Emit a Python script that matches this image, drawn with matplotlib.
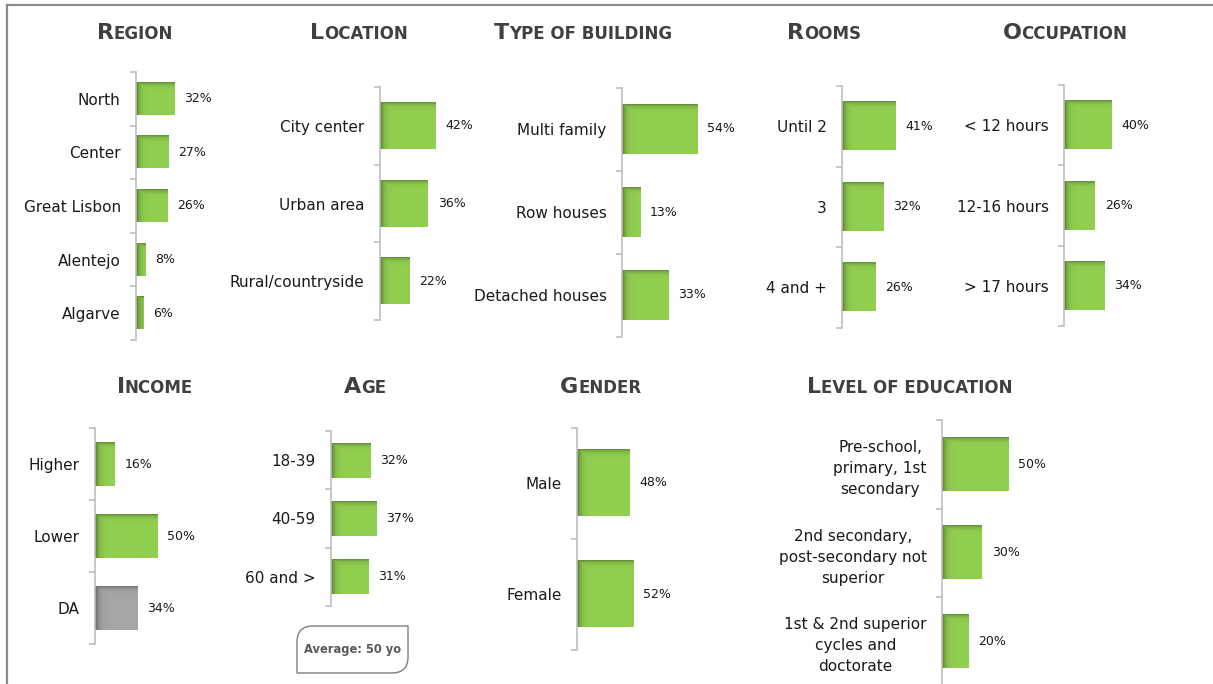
import numpy as np
import matplotlib
matplotlib.use("Agg")
import matplotlib.pyplot as plt
from matplotlib.path import Path
from matplotlib.patches import PathPatch
from matplotlib.colors import to_rgb

W, H = 1213, 684

# ---- data ----
region_labels = ['North', 'Center', 'Great Lisbon', 'Alentejo', 'Algarve']
region_vals = [32, 27, 26, 8, 6]

location_labels = ['City center', 'Urban area', 'Rural/countryside']
location_vals = [42, 36, 22]

building_labels = ['Multi family', 'Row houses', 'Detached houses']
building_vals = [54, 13, 33]

rooms_labels = ['Until 2', '3', '4 and +']
rooms_vals = [41, 32, 26]

occupation_labels = ['< 12 hours', '12-16 hours', '> 17 hours']
occupation_vals = [40, 26, 34]

income_labels = ['Higher', 'Lower', 'DA']
income_vals = [16, 50, 34]

age_labels = ['18-39', '40-59', '60 and >']
age_vals = [32, 37, 31]

gender_labels = ['Male', 'Female']
gender_vals = [48, 52]

education_labels = ['Pre-school,\nprimary, 1st\nsecondary',
                    '2nd secondary,\npost-secondary not\nsuperior',
                    '1st & 2nd superior\ncycles and\ndoctorate']
education_vals = [50, 30, 20]

GREEN = '#92D050'
GRAY = '#A6A6A6'
AXIS_C = '#BFBFBF'
TITLE_C = '#404040'

# title, labels, values, colors, axis x(px), top y(px), bottom y(px), px per %, title center x, title baseline y
panels = [
    ('Region', region_labels, region_vals, None, 136, 72, 340, 1.21, 135, 39),
    ('Location', location_labels, location_vals, None, 380, 87, 320, 1.33, 359, 39),
    ('Type of building', building_labels, building_vals, None, 622, 87.5, 336.5, 1.40, 583, 39),
    ('Rooms', rooms_labels, rooms_vals, None, 842, 86, 327.5, 1.30, 824, 39),
    ('Occupation', occupation_labels, occupation_vals, None, 1064, 85, 326, 1.19, 1065, 39),
    ('Income', income_labels, income_vals, [GREEN, GREEN, GRAY], 95, 428, 644, 1.25, 155, 393),
    ('Age', age_labels, age_vals, None, 331, 431, 606, 1.22, 365, 393),
    ('Gender', gender_labels, gender_vals, None, 577, 427.5, 649.5, 1.09, 601, 393),
    ('Level of education', education_labels, education_vals, None, 942, 420, 685.5, 1.33, 910, 393),
]


def bar_image(color, w_px, h_px):
    # bar with darker inner shadow on left and top edges
    base = np.array(to_rgb(color))
    nx = max(int(round(w_px)), 1)
    ny = max(int(round(h_px)), 1)
    dx = np.arange(nx)[None, :] + 0.5
    dy = np.arange(ny)[:, None] + 0.5
    shade = np.maximum(0.5 * np.exp(-dx / 3.2), 0.36 * np.exp(-dy / 2.4))
    return base[None, None, :] * (1 - shade[..., None])


fig = plt.figure(figsize=(W / 100, H / 100), dpi=100)
renderer = fig.canvas.get_renderer()

# frame lines (top and left)
fig.add_artist(plt.Line2D([7 / W, 7 / W], [1 - 5 / H, 0], color='#8C8C8C', lw=1.6))
fig.add_artist(plt.Line2D([7 / W, 1], [1 - 5 / H, 1 - 5 / H], color='#8C8C8C', lw=1.6))


def smallcaps_title(cx, yb, text):
    t1 = fig.text(0, 0, text[0], fontsize=16, fontweight='bold', color=TITLE_C, va='baseline')
    t2 = fig.text(0, 0, text[1:].upper(), fontsize=12, fontweight='bold', color=TITLE_C, va='baseline')
    w1 = t1.get_window_extent(renderer).width
    w2 = t2.get_window_extent(renderer).width
    x0 = cx - (w1 + w2) / 2
    t1.set_position((x0 / W, 1 - yb / H))
    t2.set_position(((x0 + w1) / W, 1 - yb / H))


AX_W = 120
for title, labels, vals, colors, ax_x, top, bot, ppp, tcx, tyb in panels:
    n = len(vals)
    ax = fig.add_axes([ax_x / W, 1 - bot / H, AX_W / W, (bot - top) / H])
    ys = np.arange(n)[::-1]
    cols = colors if colors else [GREEN] * n
    ax.barh(ys, vals, height=0.6, color=cols, zorder=1)
    step_px = (bot - top) / n
    for y, v, c in zip(ys, vals, cols):
        img = bar_image(c, v * ppp, 0.6 * step_px)
        ax.imshow(img, extent=(0, v, y - 0.3, y + 0.3), origin='upper',
                  aspect='auto', interpolation='nearest', zorder=2)
        ax.annotate(f'{v}%', (v, y), xytext=(7, 0), textcoords='offset points',
                    va='center', ha='left', fontsize=9, color='#1A1A1A')
    ax.set_xlim(0, AX_W / ppp)
    ax.set_ylim(-0.5, n - 0.5)
    for s in ['top', 'right', 'bottom']:
        ax.spines[s].set_visible(False)
    ax.spines['left'].set_color(AXIS_C)
    ax.spines['left'].set_linewidth(1.2)
    ax.set_xticks([])
    ax.set_yticks(ys)
    ax.set_yticklabels(labels, fontsize=11, color='#1A1A1A', multialignment='center',
                       linespacing=1.5)
    ax.set_yticks(np.arange(n + 1) - 0.5, minor=True)
    ax.tick_params(axis='y', which='major', length=0, pad=11)
    ax.tick_params(axis='y', which='minor', length=4, color=AXIS_C, width=1.2, direction='out')
    ax.patch.set_visible(False)
    smallcaps_title(tcx, tyb, title)

# "Average" callout under age panel
x0, x1, yt, yb, r = 297, 408, 626, 673, 16
pts = [(x0, yb), (x0, yt + r), (x0, yt), (x0 + r, yt), (x1, yt), (x1, yb - r),
       (x1, yb), (x1 - r, yb), (x0, yb)]
codes = [Path.MOVETO, Path.LINETO, Path.CURVE3, Path.CURVE3, Path.LINETO, Path.LINETO,
         Path.CURVE3, Path.CURVE3, Path.CLOSEPOLY]
path = Path([(px / W, 1 - py / H) for px, py in pts], codes)
fig.add_artist(PathPatch(path, transform=fig.transFigure, facecolor='white',
                         edgecolor='#7F7F7F', lw=1.0))
fig.text((x0 + x1) / 2 / W, 1 - (yt + yb) / 2 / H, 'Average: 50 yo', ha='center', va='center',
         fontsize=8.3, fontweight='bold', color='#595959')

fig.savefig('out.png', dpi=100)
